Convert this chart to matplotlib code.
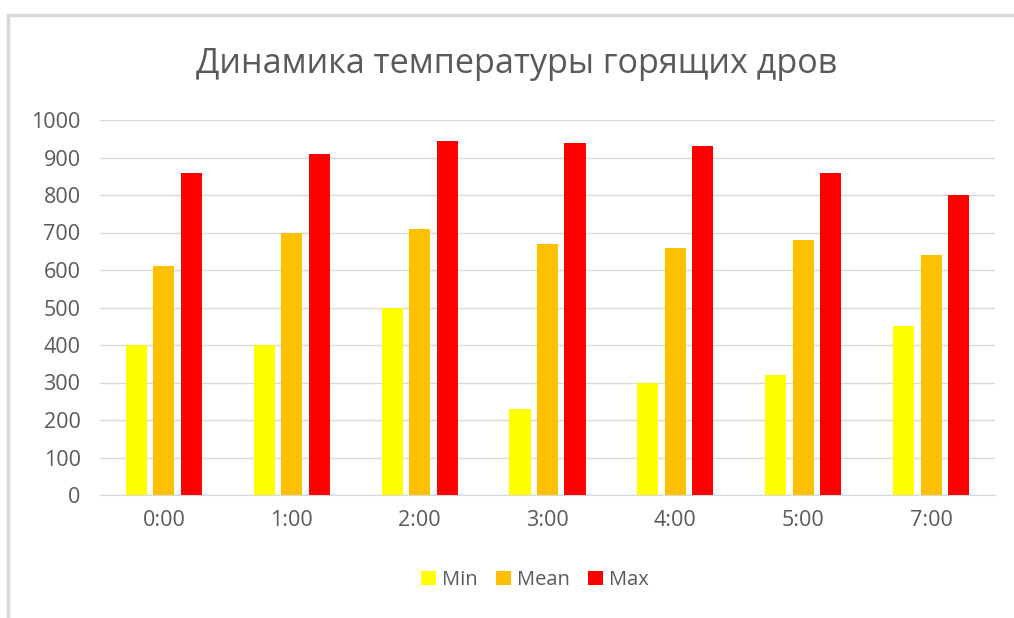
import numpy as np
import matplotlib.pyplot as plt
from matplotlib.patches import Rectangle

hours = ["0:00", "1:00", "2:00", "3:00", "4:00", "5:00", "7:00"]
t_min = [400, 400, 500, 230, 300, 320, 450]
t_mean = [610, 700, 710, 670, 660, 680, 640]
t_max = [860, 910, 945, 940, 930, 860, 800]

plt.rcParams['font.family'] = ['Open Sans', 'DejaVu Sans']
grey = "#595959"

fig = plt.figure(figsize=(10.14, 6.18), dpi=100)
# рамка діаграми (обрізана справа і знизу)
fig.patches.append(Rectangle((8 / 1014, -0.1), 1.1, 1 - 15 / 618 + 0.1,
                             transform=fig.transFigure, fill=False,
                             edgecolor="#d9d9d9", linewidth=2.5))

ax = fig.add_axes([100 / 1014, 1 - 495 / 618, (995 - 100) / 1014, (495 - 120) / 618])
x = np.arange(len(hours))
w = 0.165
d = 0.215
ax.bar(x - d, t_min, w, color="#ffff00", label="Min", zorder=3)
ax.bar(x, t_mean, w, color="#ffc000", label="Mean", zorder=3)
ax.bar(x + d, t_max, w, color="#ff0000", label="Max", zorder=3)

ax.set_xlim(-0.5, len(hours) - 0.5)
ax.set_ylim(0, 1000)
ax.set_yticks(range(0, 1001, 100))
ax.set_xticks(x)
ax.set_xticklabels(hours)
ax.grid(axis="y", color="#d9d9d9", linewidth=1, zorder=0)
for s in ["top", "right", "left"]:
    ax.spines[s].set_visible(False)
ax.spines["bottom"].set_color("#d9d9d9")
ax.tick_params(length=0, labelsize=15.5, colors=grey)
ax.tick_params(axis="x", pad=11)
ax.tick_params(axis="y", pad=14)

fig.text(0.509, 1 - 64 / 618, "Динамика температуры горящих дров",
         ha="center", va="center", fontsize=24.6, color=grey)

fig.legend(loc="center", bbox_to_anchor=(535 / 1014, 1 - 580 / 618), ncol=3,
           frameon=False, fontsize=14.5, labelcolor=grey, handlelength=0.75,
           handleheight=0.75, handletextpad=0.3, columnspacing=0.9)

fig.savefig("out.png", dpi=100)
